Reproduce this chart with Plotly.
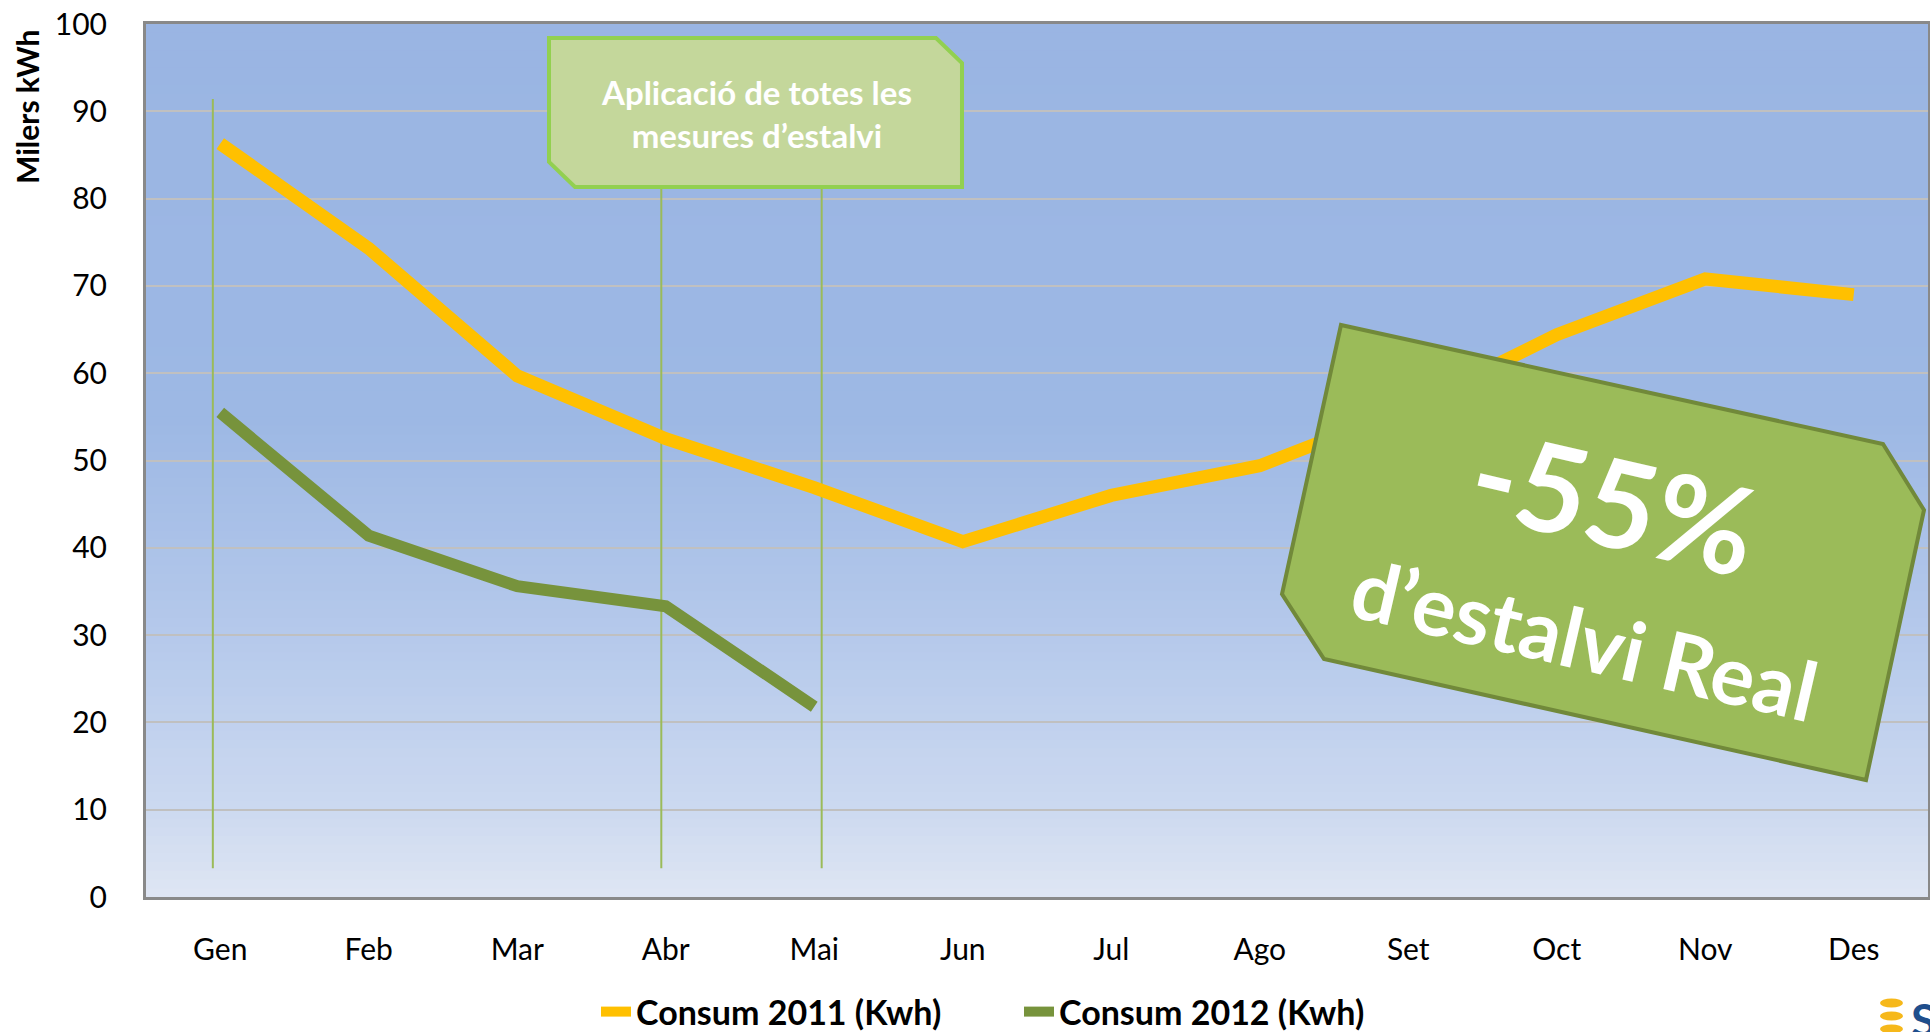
import plotly.graph_objects as go

months = ["Gen", "Feb", "Mar", "Abr", "Mai", "Jun", "Jul", "Ago", "Set", "Oct", "Nov", "Des"]
consum_2011 = [86.3, 74.3, 59.7, 52.5, 46.9, 40.7, 46.0, 49.4, 56.0, 64.4, 70.8, 69.0]
consum_2012 = [55.5, 41.4, 35.6, 33.3, 21.8]
y_ticks = list(range(0, 101, 10))

W, H = 1930, 1032
ML, MR, MT, MB = 146, 2, 24, 135
PW, PH = W - ML - MR, H - MT - MB


def px(x):
    return (x - ML) / PW


def py(y):
    return (H - MB - y) / PH


def path(points):
    return "M " + " L ".join(f"{px(x):.5f},{py(y):.5f}" for x, y in points) + " Z"


fig = go.Figure()
fig.add_trace(go.Scatter(x=months, y=consum_2011, mode="lines", name="Consum 2011 (Kwh)",
                         line=dict(color="#FFC000", width=13)))
fig.add_trace(go.Scatter(x=months[:len(consum_2012)], y=consum_2012, mode="lines",
                         name="Consum 2012 (Kwh)", line=dict(color="#77933C", width=12)))

shapes = []


def lerp(c1, c2, t):
    return tuple(round(a + (b - a) * t) for a, b in zip(c1, c2))


stops = [(0, (223, 230, 243)), (10, (204, 217, 240)), (30, (181, 201, 235)),
         (55, (157, 184, 228)), (100, (154, 181, 227))]
for v in range(0, 100):
    for (a, ca), (b, cb) in zip(stops[:-1], stops[1:]):
        if a <= v + 0.5 <= b:
            c = lerp(ca, cb, (v + 0.5 - a) / (b - a))
            break
    shapes.append(dict(type="rect", xref="paper", yref="y", x0=0, x1=1, y0=v, y1=min(v + 1.3, 100),
                       fillcolor=f"rgb{c}", line=dict(width=0), layer="below"))

# vertical marker lines
for xv in [-0.05, 2.97, 4.05]:
    shapes.append(dict(type="line", xref="x", yref="y", x0=xv, x1=xv, y0=3.3, y1=91.4,
                       line=dict(color="#9BBB59", width=2), layer="between"))

# box 1
shapes.append(dict(type="path", xref="paper", yref="paper",
                   path=path([(549, 38), (936, 38), (962, 63), (962, 187), (575, 187), (549, 162)]),
                   fillcolor="#C4D79B", line=dict(color="#92D050", width=4), layer="above"))
# box 2
shapes.append(dict(type="path", xref="paper", yref="paper",
                   path=path([(1341, 325), (1883, 444), (1924, 510), (1866, 780), (1324, 659), (1282, 594)]),
                   fillcolor="#9BBB59", line=dict(color="#71893A", width=4), layer="above"))

# logo
for yy in [1003, 1016, 1029]:
    shapes.append(dict(type="circle", xref="paper", yref="paper",
                       x0=px(1880), x1=px(1903), y0=py(yy - 4.5), y1=py(yy + 4.5),
                       fillcolor="#F6B81A", line=dict(width=0), layer="above"))

annotations = [
    dict(text="Milers kWh", xref="paper", yref="paper", x=px(27), y=py(107), textangle=-90,
         xanchor="center", yanchor="middle", showarrow=False,
         font=dict(family="Lato", size=30, color="black", weight="bold")),
    dict(text="Aplicació de totes les<br>mesures d’estalvi", xref="paper", yref="paper",
         x=px(756), y=py(114), xanchor="center", yanchor="middle", showarrow=False, align="center",
         font=dict(family="Lato", size=33, color="white", weight="bold")),
    dict(text="-55%", xref="paper", yref="paper", x=px(1614), y=py(500), textangle=13,
         xanchor="center", yanchor="middle",
         showarrow=False, font=dict(family="Lato", size=122, color="white", weight="bold")),
    dict(text="d’estalvi Real", xref="paper", yref="paper", x=px(1585), y=py(638), textangle=13,
         xanchor="center", yanchor="middle",
         showarrow=False, font=dict(family="Lato", size=82, color="white", weight="bold")),
    dict(text="<b>S</b>", xref="paper", yref="paper", x=px(1909), y=py(1019), xanchor="left",
         yanchor="middle", showarrow=False, font=dict(family="Lato", size=46, color="#1F4E8C")),
]

fig.update_layout(
    width=W, height=H,
    margin=dict(l=ML, r=MR, t=MT, b=MB, autoexpand=False),
    paper_bgcolor="white", plot_bgcolor="#9AB5E3",
    shapes=shapes, annotations=annotations,
    showlegend=True,
    legend=dict(orientation="h", x=px(596), xanchor="left", y=py(1012), yanchor="middle",
                font=dict(family="Lato", size=34, color="black", weight="bold"),
                entrywidth=378, itemwidth=30, bgcolor="rgba(0,0,0,0)"),
    xaxis=dict(type="category", range=[-0.5, 11.5], showgrid=False, showline=True, mirror=True,
               linecolor="#898989", linewidth=3, ticks="", ticklabelstandoff=24,
               tickfont=dict(family="Lato", size=30, color="black")),
    yaxis=dict(range=[0, 100], tickvals=y_ticks, showgrid=True, gridcolor="#C0C0C0", gridwidth=1.5,
               showline=True, mirror=True, linecolor="#898989", linewidth=3, ticks="",
               ticklabelstandoff=30, zeroline=False,
               tickfont=dict(family="Lato", size=30, color="black")),
)

fig.write_html("out.html", config={"displayModeBar": False},
               post_script="document.body.style.margin='0';document.body.style.overflow='hidden';")
